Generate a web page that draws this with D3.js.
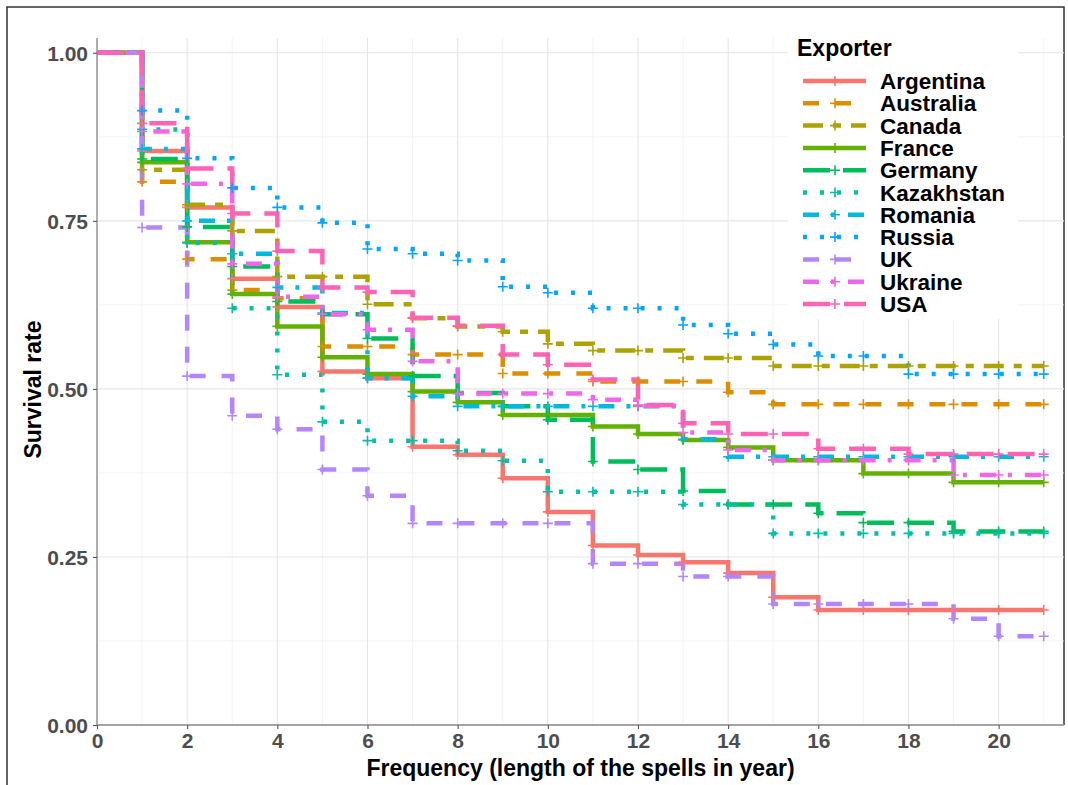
<!DOCTYPE html>
<html>
<head>
<meta charset="utf-8">
<script src="https://cdn.jsdelivr.net/npm/d3@7"></script>
<style>
  body { margin: 0; background: #fff; }
  text { font-family: "Liberation Sans", Arial, sans-serif; font-weight: bold; }
</style>
</head>
<body>
<div id="chart"></div>
<script>
// time points (years) 0..21
const times = d3.range(0, 22);

const exporters = ["Argentina", "Australia", "Canada", "France", "Germany", "Kazakhstan",
                   "Romania", "Russia", "UK", "Ukraine", "USA"];

// survival values, one per year (0..21)
const argentina  = [1, 0.854, 0.770, 0.664, 0.622, 0.526, 0.516, 0.414, 0.402, 0.367, 0.317, 0.267, 0.253, 0.242, 0.226, 0.190, 0.171, 0.171, 0.171, 0.171, 0.171, 0.171];
const australia  = [1, 0.808, 0.693, 0.647, 0.635, 0.563, 0.563, 0.551, 0.551, 0.523, 0.523, 0.511, 0.511, 0.511, 0.495, 0.477, 0.477, 0.477, 0.477, 0.477, 0.477, 0.477];
const canada     = [1, 0.826, 0.774, 0.735, 0.667, 0.667, 0.626, 0.605, 0.593, 0.585, 0.567, 0.557, 0.557, 0.546, 0.546, 0.534, 0.534, 0.534, 0.534, 0.534, 0.534, 0.534];
const france     = [1, 0.837, 0.718, 0.641, 0.593, 0.547, 0.522, 0.496, 0.480, 0.461, 0.461, 0.444, 0.433, 0.424, 0.413, 0.394, 0.394, 0.374, 0.374, 0.361, 0.361, 0.361];
const germany    = [1, 0.842, 0.741, 0.682, 0.630, 0.611, 0.575, 0.519, 0.494, 0.474, 0.454, 0.392, 0.380, 0.348, 0.328, 0.328, 0.315, 0.301, 0.301, 0.288, 0.288, 0.288];
const kazakhstan = [1, 0.886, 0.717, 0.620, 0.521, 0.451, 0.423, 0.423, 0.408, 0.393, 0.347, 0.347, 0.347, 0.328, 0.328, 0.285, 0.285, 0.285, 0.285, 0.285, 0.285, 0.285];
const romania    = [1, 0.857, 0.750, 0.701, 0.651, 0.613, 0.516, 0.489, 0.474, 0.474, 0.474, 0.474, 0.474, 0.425, 0.399, 0.399, 0.399, 0.399, 0.399, 0.399, 0.399, 0.399];
const russia     = [1, 0.914, 0.843, 0.799, 0.770, 0.747, 0.708, 0.701, 0.691, 0.652, 0.643, 0.620, 0.620, 0.595, 0.582, 0.566, 0.549, 0.549, 0.522, 0.522, 0.522, 0.522];
const uk         = [1, 0.740, 0.519, 0.460, 0.440, 0.380, 0.341, 0.300, 0.300, 0.300, 0.300, 0.240, 0.240, 0.221, 0.221, 0.180, 0.180, 0.180, 0.180, 0.158, 0.132, 0.132];
const ukraine    = [1, 0.883, 0.805, 0.686, 0.637, 0.611, 0.588, 0.541, 0.493, 0.493, 0.493, 0.484, 0.475, 0.435, 0.409, 0.394, 0.394, 0.394, 0.394, 0.372, 0.372, 0.372];
const usa        = [1, 0.895, 0.828, 0.761, 0.705, 0.651, 0.644, 0.606, 0.594, 0.551, 0.536, 0.514, 0.476, 0.449, 0.433, 0.433, 0.411, 0.411, 0.403, 0.403, 0.403, 0.403];

const seriesValues = [argentina, australia, canada, france, germany, kazakhstan,
                      romania, russia, uk, ukraine, usa];

const xTicks = [0, 2, 4, 6, 8, 10, 12, 14, 16, 18, 20];
const yTicks = [0, 0.25, 0.5, 0.75, 1];

// styling
const colors = ["#F8766D", "#DB8E00", "#AEA200", "#64B200", "#00BD5C", "#00C1A7",
                "#00BADE", "#00A6FF", "#B385FF", "#EF67EB", "#FF63B6"];
const dashes = [null, "16,16", "20,10,8,10", null, "27,13", "4,13",
                "16,12,4,13", "4,13", "16,16", "16,12,4,13", "27,14"];

const W = 1068, H = 785;
const pLeft = 97, pRight = 1064, pTop = 38, pBottom = 725;

const svg = d3.select("#chart").append("svg")
  .attr("width", W).attr("height", H);

// outer frame
svg.append("path")
  .attr("d", `M7,${H} V7 H${pRight} V${pBottom}`)
  .attr("fill", "none").attr("stroke", "#333").attr("stroke-width", 1.5);

const x = d3.scaleLinear().domain([0, 21.45]).range([pLeft, pRight]);
const y = d3.scaleLinear().domain([0, 1.022]).range([pBottom, pTop]);

// grid
const g = svg.append("g");
g.selectAll(".minx").data(d3.range(1, 22, 2)).enter().append("line")
  .attr("x1", d => x(d)).attr("x2", d => x(d)).attr("y1", pTop).attr("y2", pBottom)
  .attr("stroke", "#efefef").attr("stroke-width", 0.7);
g.selectAll(".miny").data([0.125, 0.375, 0.625, 0.875]).enter().append("line")
  .attr("x1", pLeft).attr("x2", pRight).attr("y1", d => y(d)).attr("y2", d => y(d))
  .attr("stroke", "#efefef").attr("stroke-width", 0.7);
g.selectAll(".majx").data(xTicks).enter().append("line")
  .attr("x1", d => x(d)).attr("x2", d => x(d)).attr("y1", pTop).attr("y2", pBottom)
  .attr("stroke", "#e6e6e6").attr("stroke-width", 1.1);
g.selectAll(".majy").data(yTicks).enter().append("line")
  .attr("x1", pLeft).attr("x2", pRight).attr("y1", d => y(d)).attr("y2", d => y(d))
  .attr("stroke", "#e6e6e6").attr("stroke-width", 1.1);

// curves
const line = d3.line()
  .x((d, i) => x(times[i]))
  .y(d => y(d))
  .curve(d3.curveStepAfter);

const curves = svg.append("g");
seriesValues.forEach((vals, k) => {
  curves.append("path")
    .attr("d", line(vals))
    .attr("fill", "none")
    .attr("stroke", colors[k])
    .attr("stroke-width", 4.5)
    .attr("stroke-dasharray", dashes[k]);
});

// censor marks
seriesValues.forEach((vals, k) => {
  const pts = vals.map((v, i) => [times[i], v]).filter(p => p[0] >= 1);
  curves.selectAll(null).data(pts).enter().append("path")
    .attr("d", d => `M${x(d[0]) - 5},${y(d[1])}h10M${x(d[0])},${y(d[1]) - 5}v10`)
    .attr("stroke", colors[k]).attr("stroke-width", 1.6).attr("fill", "none");
});

// axes
const xAxis = svg.append("g").attr("transform", `translate(0,${pBottom})`)
  .call(d3.axisBottom(x).tickValues(xTicks).tickSize(4).tickPadding(4).tickFormat(d3.format("d")));
const yAxis = svg.append("g").attr("transform", `translate(${pLeft},0)`)
  .call(d3.axisLeft(y).tickValues(yTicks).tickSize(4).tickPadding(5).tickFormat(d3.format(".2f")));
[xAxis, yAxis].forEach(a => {
  a.select(".domain").attr("stroke", "#8a8a8a").attr("stroke-width", 1.3);
  a.selectAll(".tick line").attr("stroke", "#555").attr("stroke-width", 1.1);
  a.selectAll(".tick text").attr("fill", "#4d4d4d").style("font-size", "21px")
    .style("font-family", "'Liberation Sans', Arial, sans-serif").style("font-weight", "bold");
});
yAxis.select(".domain").attr("d", `M0,${pTop}V${pBottom}`);
xAxis.select(".domain").attr("d", `M${pLeft},0H${pRight}`);
yAxis.selectAll(".tick text").attr("dy", "0.36em");

// axis titles
svg.append("text")
  .attr("x", (pLeft + pRight) / 2).attr("y", 776)
  .attr("text-anchor", "middle").style("font-size", "23px").attr("fill", "#000")
  .text("Frequency (length of the spells in year)");
svg.append("text")
  .attr("transform", `translate(41,${(pTop + pBottom) / 2 + 8}) rotate(-90)`)
  .attr("text-anchor", "middle").style("font-size", "23px").attr("fill", "#000")
  .text("Survival rate");

// legend
const leg = svg.append("g");
leg.append("rect").attr("x", 788).attr("y", 28).attr("width", 230).attr("height", 291)
  .attr("fill", "#fff");
leg.append("text").attr("x", 797).attr("y", 56).style("font-size", "23px")
  .attr("fill", "#000").text("Exporter");
const rowY = i => 81 + i * 22.3;
exporters.forEach((name, k) => {
  const yy = rowY(k);
  leg.append("line").attr("x1", 803).attr("x2", 866).attr("y1", yy).attr("y2", yy)
    .attr("stroke", colors[k]).attr("stroke-width", 4.5)
    .attr("stroke-dasharray", dashes[k]);
  leg.append("path").attr("d", `M830,${yy}h10M835,${yy - 5}v10`)
    .attr("stroke", colors[k]).attr("stroke-width", 1.6);
  leg.append("text").attr("x", 880).attr("y", yy + 8).style("font-size", "22.5px")
    .attr("fill", "#000").text(name);
});
</script>
</body>
</html>
